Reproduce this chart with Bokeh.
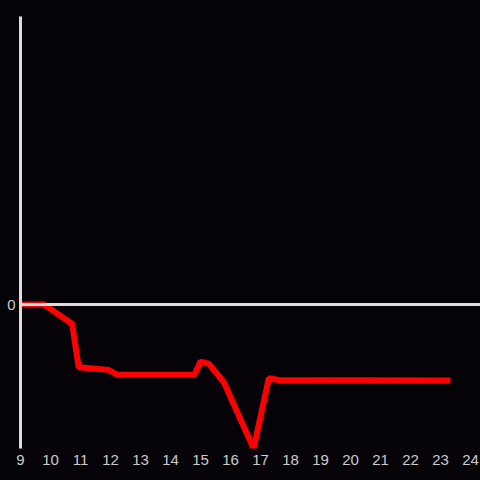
from bokeh.plotting import figure
from bokeh.models import Range1d, FixedTicker, Span
from bokeh.embed import file_html
from bokeh.resources import INLINE

# data
hours = [9.0, 9.78, 10.72, 10.94, 11.94, 12.22, 14.8, 15.0, 15.28, 15.78, 16.77, 17.28, 17.6, 23.33]
values = [0.0, 0.0, -6.7, -21.8, -22.7, -24.4, -24.4, -19.8, -20.6, -27.0, -50.0, -25.6, -26.2, -26.4]
x_ticks = list(range(9, 25))
y_ticks = [0]

BG = "#050307"
AX = "#dcdcdc"

p = figure(width=480, height=480, output_backend="svg", toolbar_location=None,
           x_range=Range1d(9, 9 + 460 / 30), y_range=Range1d(-50, 100),
           min_border_left=20, min_border_right=0, min_border_top=16, min_border_bottom=32,
           background_fill_color=BG, border_fill_color=BG, outline_line_color=None)
p.grid.visible = False

p.xaxis.ticker = FixedTicker(ticks=x_ticks)
p.xaxis.axis_line_color = None
p.xaxis.major_tick_line_color = None
p.xaxis.minor_tick_line_color = None
p.xaxis.major_tick_out = 0
p.xaxis.major_label_standoff = 6
p.xaxis.major_label_text_color = "#cccccc"
p.xaxis.major_label_text_font = "Liberation Sans"
p.xaxis.major_label_text_font_size = "15px"

p.yaxis.ticker = FixedTicker(ticks=y_ticks)
p.yaxis.axis_line_color = AX
p.yaxis.axis_line_width = 3
p.yaxis.major_tick_line_color = None
p.yaxis.minor_tick_line_color = None
p.yaxis.major_tick_out = 0
p.yaxis.major_label_standoff = 5
p.yaxis.major_label_text_color = "#cccccc"
p.yaxis.major_label_text_font = "Liberation Sans"
p.yaxis.major_label_text_font_size = "15px"

p.add_layout(Span(location=0, dimension="width", line_color=AX, line_width=3))

p.line(hours, values, line_color="#ff0000", line_width=6, line_cap="butt", line_join="bevel")

html = file_html(p, INLINE)
html = html.replace("</head>", "<style>html, body { background: #050307; }</style></head>")
open("out.html", "w").write(html)
